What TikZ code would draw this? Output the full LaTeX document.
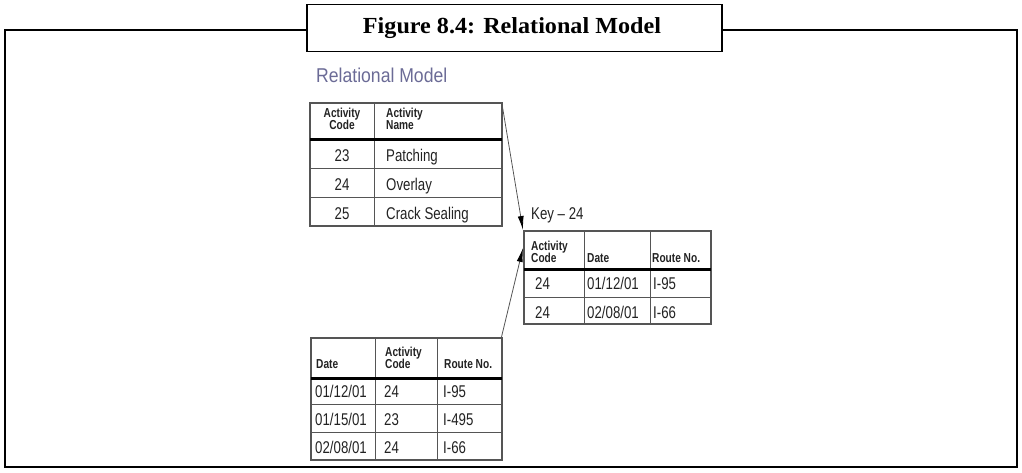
\documentclass[tikz,border=0pt]{standalone}
\usepackage{fontspec}
\setmainfont{Liberation Serif}
\newfontfamily\titlefont[FakeStretch=1.05]{Liberation Serif}
\newfontfamily\tabfont[FakeStretch=0.78]{Liberation Sans}
\newfontfamily\subfont[FakeStretch=0.88]{Liberation Sans}
\usetikzlibrary{arrows.meta}
\definecolor{ink}{HTML}{222222}
\definecolor{rule}{HTML}{555555}
\definecolor{headblue}{HTML}{6B6B96}
\tikzset{
  x=1pt, y=-1pt,
  frame/.style={line width=1.8pt, black},
  outer/.style={line width=1.3pt, rule},
  inner/.style={line width=0.9pt, rule},
  thick rule/.style={line width=3pt, black},
  cell/.style={inner sep=0pt, anchor=base west, text=ink, font=\tabfont\fontsize{17}{17}\selectfont},
  ccell/.style={cell, anchor=base},
  hcell/.style={inner sep=0pt, anchor=south west, text=ink, align=left, font=\tabfont\bfseries\fontsize{13}{12.5}\selectfont},
  link/.style={line width=0.8pt, draw=rule, -{Latex[length=14pt,width=6pt,black]}},
}
\begin{document}
\begin{tikzpicture}
\useasboundingbox (0,0) rectangle (1022,473);
% outer frame
\draw[frame] (307,30) -- (5,30) -- (5,467) -- (1017,467) -- (1017,30) -- (722,30);
\node[draw, line width=1.8pt, minimum width=415pt, minimum height=47pt, inner sep=0pt] (title) at (514.5,28) {};
\node[inner sep=0pt, anchor=base, font=\titlefont\bfseries\fontsize{23}{23}\selectfont] (titletext) at (512,34) {Figure 8.4: Relational Model};
\node[inner sep=0pt, anchor=base west, text=headblue, font=\subfont\fontsize{20}{20}\selectfont] (subtitle) at (316,83) {Relational Model};

% table 1
\draw[outer] (310,103) rectangle (502,226);
\draw[inner] (374,103) -- (374,226);
\draw[thick rule] (310,140) -- (502,140);
\draw[inner] (310,168) -- (502,168) (310,197) -- (502,197);
\coordinate (t1corner) at (502,104);
\node[hcell, anchor=south, align=center] (h11) at (342,130) {Activity\\Code};
\node[hcell] (h12) at (386,130) {Activity\\Name};
\node[ccell] (c11) at (342,162) {23};
\node[cell] (c12) at (386,162) {Patching};
\node[ccell] (c21) at (342,191) {24};
\node[cell] (c22) at (386,191) {Overlay};
\node[ccell] (c31) at (342,219) {25};
\node[cell] (c32) at (386,219) {Crack Sealing};

% key label and table 2
\node[cell] (key) at (531,219) {Key – 24};
\draw[outer] (524,231) rectangle (711,324);
\draw[inner] (584,231) -- (584,324) (650,231) -- (650,324);
\draw[thick rule] (524,269) -- (711,269);
\draw[inner] (524,297) -- (711,297);
\coordinate (t2top) at (523,230);
\coordinate (t2mid) at (523,248);
\node[hcell] (k1) at (531,263) {Activity\\Code};
\node[hcell] (k2) at (587,263) {Date};
\node[hcell] (k3) at (652,263) {Route No.};
\node[cell] (k11) at (535,289) {24};
\node[cell] (k12) at (587,289) {01/12/01};
\node[cell] (k13) at (653,289) {I-95};
\node[cell] (k21) at (535,318) {24};
\node[cell] (k22) at (587,318) {02/08/01};
\node[cell] (k23) at (653,318) {I-66};

% table 3
\draw[outer] (311,338) rectangle (502,460);
\draw[inner] (375,338) -- (375,460) (437,338) -- (437,460);
\draw[thick rule] (311,378) -- (502,378);
\draw[inner] (311,404) -- (502,404) (311,432) -- (502,432);
\coordinate (t3corner) at (501,339);
\node[hcell] (d1) at (316,369) {Date};
\node[hcell] (d2) at (385,369) {Activity\\Code};
\node[hcell] (d3) at (444,369) {Route No.};
\node[cell] (r11) at (315,397) {01/12/01};
\node[cell] (r12) at (384,397) {24};
\node[cell] (r13) at (443,397) {I-95};
\node[cell] (r21) at (315,425) {01/15/01};
\node[cell] (r22) at (384,425) {23};
\node[cell] (r23) at (443,425) {I-495};
\node[cell] (r31) at (315,453) {02/08/01};
\node[cell] (r32) at (384,453) {24};
\node[cell] (r33) at (443,453) {I-66};

% connectors
\draw[link] (t1corner) -- (t2top);
\draw[link] (t3corner) -- (t2mid);
\end{tikzpicture}
\end{document}
